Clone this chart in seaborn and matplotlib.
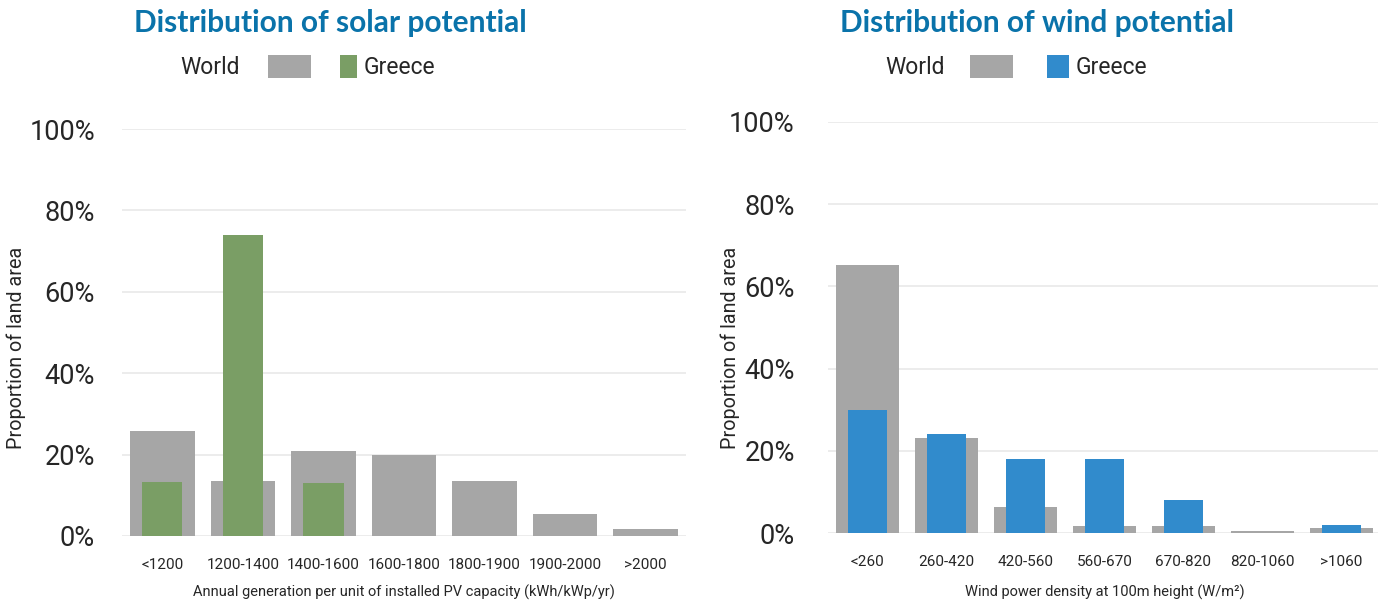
import matplotlib

matplotlib.use("Agg")
import matplotlib.pyplot as plt
import matplotlib.patches as mpatches
import pandas as pd
import seaborn as sns

SOLAR_CATS = ["<1200", "1200-1400", "1400-1600", "1600-1800", "1800-1900", "1900-2000", ">2000"]
SOLAR_WORLD = [25.8, 13.5, 21.0, 19.9, 13.5, 5.4, 1.6]
SOLAR_GREECE = [13.3, 74.0, 13.0, 0, 0, 0, 0]

WIND_CATS = ["<260", "260-420", "420-560", "560-670", "670-820", "820-1060", ">1060"]
WIND_WORLD = [65.2, 23.2, 6.4, 1.8, 1.6, 0.6, 1.3]
WIND_GREECE = [30.0, 24.0, 18.0, 18.0, 8.0, 0, 2.0]

GRAY = "#A6A6A6"
GREEN = "#7A9E65"
BLUE = "#318BCC"
TITLE_BLUE = "#0A73AA"

sns.set_theme(style="white")
plt.rcParams["font.family"] = ["Roboto", "DejaVu Sans"]

W, H = 1378, 603
fig = plt.figure(figsize=(W / 100, H / 100), dpi=100)


def px_rect(x0, y_top, x1, y_bot):
    return [x0 / W, 1 - y_bot / H, (x1 - x0) / W, (y_bot - y_top) / H]


def panel(ax, cats, world, greece, color, xlabel, ylabel_x, ytick_pad):
    df = pd.DataFrame({"cat": cats, "world": world, "greece": greece})
    sns.barplot(data=df, x="cat", y="world", order=cats, color=GRAY,
                width=0.8, saturation=1, linewidth=0, ax=ax, zorder=2)
    sns.barplot(data=df, x="cat", y="greece", order=cats, color=color,
                width=0.5, saturation=1, linewidth=0, ax=ax, zorder=3)
    ax.set_ylim(0, 100)
    ax.set_xlim(-0.5, len(cats) - 0.5)
    ax.set_yticks(range(0, 101, 20))
    ax.set_yticklabels([f"{v}%" for v in range(0, 101, 20)], fontsize=19.5)
    ax.yaxis.grid(True, color="#E9E9E9", lw=1.2, zorder=0)
    ax.set_axisbelow(True)
    ax.tick_params(axis="y", length=0, pad=ytick_pad)
    ax.tick_params(axis="x", length=0, pad=16, labelsize=11)
    for s in ax.spines.values():
        s.set_visible(False)

    pos = ax.get_position()
    x0, w = pos.x0 * W, pos.width * W
    y_bot, h = (1 - pos.y0) * H, pos.height * H
    ax.set_ylabel("Proportion of land area", fontsize=14.2, va="center")
    ax.yaxis.set_label_coords((ylabel_x - x0) / w, (y_bot - 348) / h)
    ax.set_xlabel(xlabel, fontsize=10.5, va="center")
    ax.xaxis.set_label_coords(0.5, -(592 - y_bot) / h)


ax1 = fig.add_axes(px_rect(122, 129, 686, 536))
panel(ax1, SOLAR_CATS, SOLAR_WORLD, SOLAR_GREECE, GREEN,
      "Annual generation per unit of installed PV capacity (kWh/kWp/yr)", 16, 19.5)
ax2 = fig.add_axes(px_rect(828, 122, 1381, 533))
panel(ax2, WIND_CATS, WIND_WORLD, WIND_GREECE, BLUE,
      "Wind power density at 100m height (W/m²)", 730, 24)


def header(title, tx, world_x, gray_x, col_x, col_w, greece_x, color):
    fig.text(tx / W, 1 - 23 / H, title, ha="center", va="center", fontsize=21.5,
             fontweight="bold", color=TITLE_BLUE, family=["Lato", "DejaVu Sans"])
    fig.text(world_x / W, 1 - 67 / H, "World", ha="left", va="center", fontsize=16.5)
    fig.text(greece_x / W, 1 - 67 / H, "Greece", ha="left", va="center", fontsize=16.5)
    for x0, w, c in ((gray_x, 43, GRAY), (col_x, col_w, color)):
        fig.add_artist(mpatches.Rectangle((x0 / W, 1 - 78 / H), w / W, 23 / H,
                                          transform=fig.transFigure, color=c, lw=0))


header("Distribution of solar potential", 330, 180, 268, 340, 17, 364, GREEN)
header("Distribution of wind potential", 1037, 885, 970, 1047, 22, 1076, BLUE)

fig.savefig("out.png", dpi=100, facecolor="white")
